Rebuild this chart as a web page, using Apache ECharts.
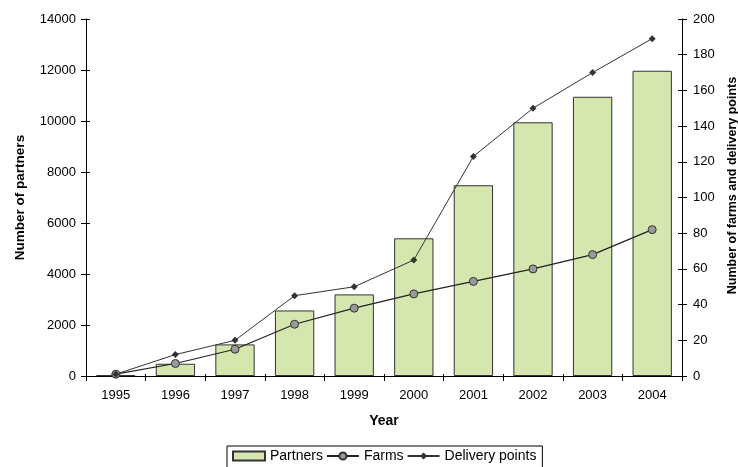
<!DOCTYPE html>
<html>
<head>
<meta charset="utf-8">
<script src="https://cdn.jsdelivr.net/npm/echarts@6/dist/echarts.min.js"></script>
<style>html,body{margin:0;padding:0;background:#fff;}#c{width:738px;height:467px;}</style>
</head>
<body>
<div id="c"></div>
<script>
var years = ['1995','1996','1997','1998','1999','2000','2001','2002','2003','2004'];
var partners = [30, 480, 1240, 2570, 3200, 5400, 7480, 9950, 10950, 11970];
var farms = [1, 7, 15, 29, 38, 46, 53, 60, 68, 82];
var deliveryPoints = [1, 12, 20, 45, 50, 65, 123, 150, 170, 189];

var font = 'Liberation Sans, Arial, sans-serif';
var chart = echarts.init(document.getElementById('c'));
var leftAxisBase = {min: 0, max: 14000, interval: 2000};
var rightAxisBase = {min: 0, max: 200, interval: 20};
var plain = function (v) { return String(v); };
chart.setOption({
  animation: false,
  textStyle: {fontFamily: font},
  grid: {left: 86, right: 56, top: 19, bottom: 91, containLabel: false, outerBoundsMode: 'none'},
  legend: {
    top: 446, left: 227,
    padding: [3, 6, 10, 5],
    borderColor: '#000', borderWidth: 1,
    itemGap: 3, itemWidth: 32, itemHeight: 9,
    textStyle: {fontSize: 14, color: '#000', fontFamily: font, padding: [0, 3, 0, 0]},
    data: [
      {name: 'Partners', icon: 'rect'},
      {name: 'Farms'},
      {name: 'Delivery points'}
    ]
  },
  xAxis: [{
    type: 'category', data: years,
    name: 'Year', nameLocation: 'middle', nameGap: 38,
    nameTextStyle: {fontWeight: 'bold', fontSize: 14, color: '#000', fontFamily: font},
    axisLine: {lineStyle: {color: '#000', width: 1}},
    axisTick: {show: true, length: 5, lineStyle: {color: '#000'}},
    axisLabel: {color: '#000', fontSize: 13, margin: 13, fontFamily: font}
  }, {
    type: 'category', data: years, position: 'bottom',
    axisLine: {show: false}, axisLabel: {show: false},
    axisTick: {show: true, inside: true, length: 2, lineStyle: {color: '#000'}}
  }],
  yAxis: [Object.assign({
    type: 'value', position: 'left',
    name: 'Number of partners', nameLocation: 'middle', nameGap: 59, nameRotate: 90,
    nameTextStyle: {fontWeight: 'bold', fontSize: 13.5, color: '#000', fontFamily: font},
    axisLine: {show: true, lineStyle: {color: '#000', width: 1}},
    axisTick: {show: true, length: 5, lineStyle: {color: '#000'}},
    axisLabel: {color: '#000', fontSize: 13, margin: 10, fontFamily: font, formatter: plain},
    splitLine: {show: false}
  }, leftAxisBase), Object.assign({
    type: 'value', position: 'right',
    name: 'Number of farms and delivery points', nameLocation: 'middle', nameGap: 44, nameRotate: 90,
    nameTextStyle: {fontWeight: 'bold', fontSize: 12.5, color: '#000', fontFamily: font, padding: [0, 0, 0, 24]},
    axisLine: {show: true, lineStyle: {color: '#000', width: 1}},
    axisTick: {show: true, length: 5, lineStyle: {color: '#000'}},
    axisLabel: {color: '#000', fontSize: 13, margin: 11, fontFamily: font, formatter: plain},
    splitLine: {show: false}
  }, rightAxisBase), Object.assign({
    type: 'value', position: 'left',
    axisLine: {show: false}, axisLabel: {show: false}, splitLine: {show: false},
    axisTick: {show: true, inside: true, length: 4, lineStyle: {color: '#000'}}
  }, leftAxisBase), Object.assign({
    type: 'value', position: 'right',
    axisLine: {show: false}, axisLabel: {show: false}, splitLine: {show: false},
    axisTick: {show: true, inside: true, length: 4, lineStyle: {color: '#000'}}
  }, rightAxisBase)],
  series: [{
    name: 'Partners', type: 'bar', data: partners, yAxisIndex: 0,
    barCategoryGap: '34%',
    itemStyle: {color: '#d5e6ae', borderColor: '#333', borderWidth: 1}
  }, {
    name: 'Farms', type: 'line', data: farms, yAxisIndex: 1,
    symbol: 'circle', symbolSize: 8,
    lineStyle: {color: '#222', width: 1.2},
    itemStyle: {color: '#999', borderColor: '#333', borderWidth: 1}
  }, {
    name: 'Delivery points', type: 'line', data: deliveryPoints, yAxisIndex: 1,
    symbol: 'diamond', symbolSize: 7,
    lineStyle: {color: '#333', width: 1},
    itemStyle: {color: '#333', borderColor: '#333', borderWidth: 0}
  }]
});
</script>
</body>
</html>
